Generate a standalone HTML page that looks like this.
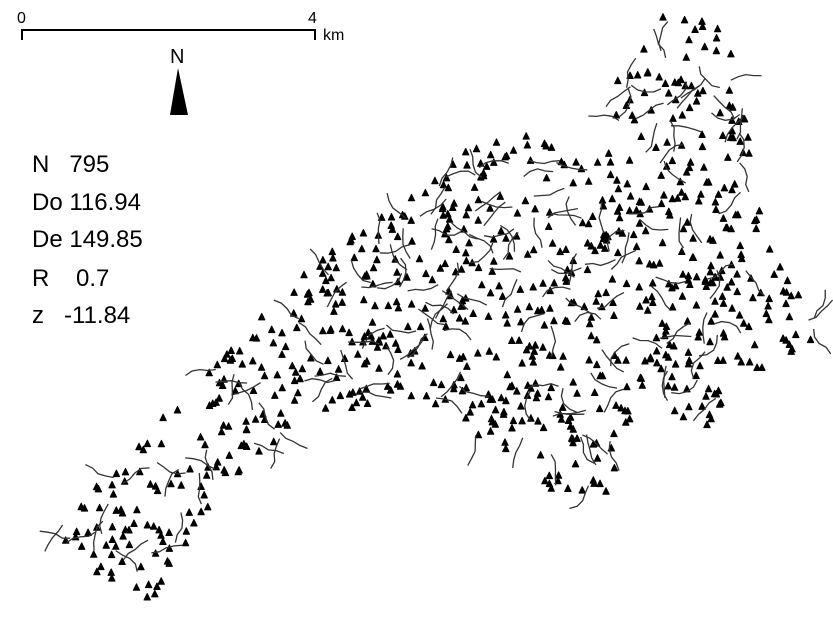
<!DOCTYPE html>
<html><head><meta charset="utf-8"><style>
html,body{margin:0;padding:0;background:#fff;}
body{width:833px;height:619px;overflow:hidden;position:relative;font-family:"Liberation Sans",sans-serif;}
.t{position:absolute;font-size:24px;color:#000;line-height:1;white-space:pre;}
</style></head><body>
<svg id="s" width="833" height="619" style="position:absolute;left:0;top:0">
<path d="M22 40 V30 H315 V40" fill="none" stroke="#000" stroke-width="2"/>
<text x="17" y="23" font-size="16" font-family="Liberation Sans">0</text>
<text x="308" y="23" font-size="16" font-family="Liberation Sans">4</text>
<text x="323" y="40" font-size="16" font-family="Liberation Sans">km</text>
<text x="170" y="63" font-size="20" font-family="Liberation Sans">N</text>
<polygon points="178,68 170,115 188,115" fill="#000"/>
<g id="m"></g>
</svg>
<div class="t" style="left:32px;top:153px">N   795</div>
<div class="t" style="left:32px;top:191px">Do 116.94</div>
<div class="t" style="left:32px;top:228px">De 149.85</div>
<div class="t" style="left:32px;top:267px">R    0.7</div>
<div class="t" style="left:32px;top:304px">z   -11.84</div>
<script>
var P=[[60,520],[130,450],[230,345],[320,245],[400,205],[450,150],[520,130],[600,160],[605,100],[660,15],[730,25],[745,120],[770,240],[790,285],[830,330],[780,360],[730,385],[705,435],[650,400],[625,430],[615,490],[545,500],[525,460],[460,430],[430,400],[380,405],[300,425],[230,480],[175,560],[160,605],[110,590],[70,560]];
function inside(x,y){var c=false;for(var i=0,j=P.length-1;i<P.length;j=i++){var a=P[i],b=P[j];if(((a[1]>y)!=(b[1]>y))&&(x<(b[0]-a[0])*(y-a[1])/(b[1]-a[1])+a[0]))c=!c;}return c;}
var seed=12345;function r(){seed=(seed*16807)%2147483647;return seed/2147483647;}
var h='';
var n=0;while(n<795){var x=40+r()*790,y=10+r()*600;if(!inside(x,y))continue;n++;h+='<polygon points="'+x.toFixed(1)+','+(y-3.5).toFixed(1)+' '+(x-3.2).toFixed(1)+','+(y+3).toFixed(1)+' '+(x+3.2).toFixed(1)+','+(y+3).toFixed(1)+'" fill="#000" stroke="#000" stroke-width="1" stroke-linejoin="round"/>';}
var k=0;while(k<170){var x=40+r()*790,y=10+r()*600;if(!inside(x,y))continue;k++;var d='M'+x.toFixed(1)+' '+y.toFixed(1);var a=r()*6.28;for(var s=0;s<4;s++){a+=(r()-0.5)*1.2;x+=Math.cos(a)*8;y+=Math.sin(a)*8;d+=' L'+x.toFixed(1)+' '+y.toFixed(1);}h+='<path d="'+d+'" fill="none" stroke="#333" stroke-width="1.3"/>';}
document.getElementById('m').innerHTML=h;
</script>
</body></html>
